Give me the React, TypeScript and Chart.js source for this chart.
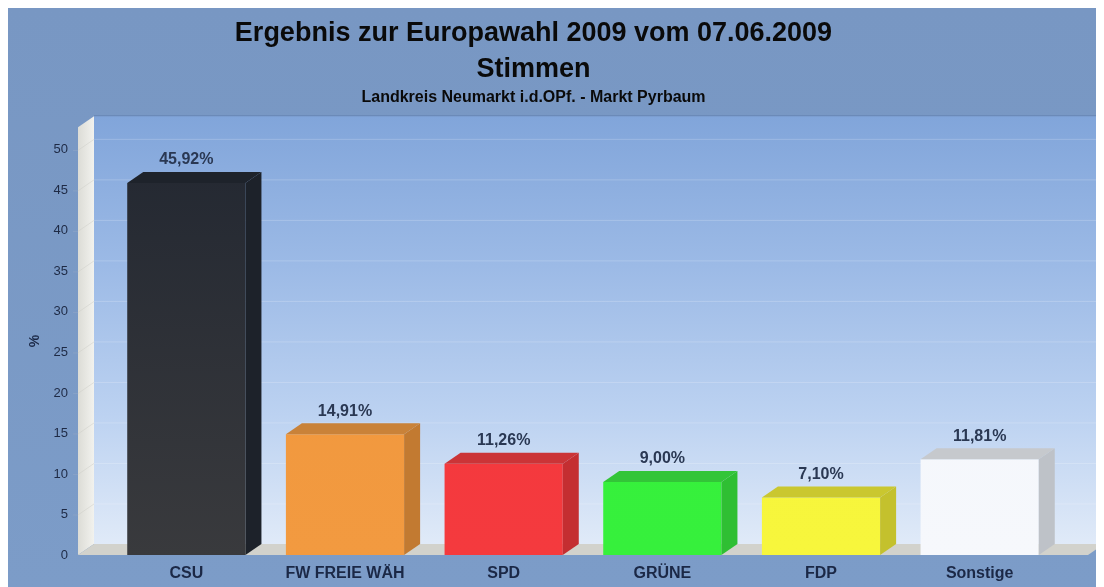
import { useEffect, useRef } from 'react';
import { Chart, registerables } from 'chart.js';

Chart.register(...registerables);

const categories = ['CSU', 'FW FREIE WÄH', 'SPD', 'GRÜNE', 'FDP', 'Sonstige'];
const values = [45.92, 14.91, 11.26, 9.0, 7.1, 11.81];
const frontTop = ['#222731', '#f0963c', '#f4363c', '#38f23c', '#f5f43a', '#f2f5fb'];
const frontBottom = ['#393a3d', '#f29a40', '#f43a3e', '#36f03c', '#f7f63c', '#f6f8fc'];
const sideColors = ['#1d222a', '#c27a31', '#c42e31', '#2fbf33', '#c4c12d', '#bec2c8'];
const topColors = ['#1e232b', '#c98239', '#cb3437', '#33c538', '#cac72f', '#c6c9cd'];
const titleLines = ['Ergebnis zur Europawahl 2009 vom 07.06.2009', 'Stimmen'];
const subtitleText = 'Landkreis Neumarkt i.d.OPf. - Markt Pyrbaum';
const yAxisTitle = '%';
const yMin = 0;
const yMax = 52.8;
const yStep = 5;

const FONT = "'Liberation Sans', Arial, Helvetica, sans-serif";
const DX = 16;
const DY = 11;
const EXT = 29;

function fmt(v: number) {
  return v.toFixed(2).replace('.', ',') + '%';
}

const deco3d = {
  id: 'deco3d',
  beforeDraw(chart: any) {
    const { ctx, chartArea } = chart;
    if (!chartArea) return;
    const { left, right, top, bottom } = chartArea;
    const y = chart.scales.y;
    ctx.save();
    const bg = ctx.createLinearGradient(0, 0, 0, chart.height);
    bg.addColorStop(0, '#7897c3');
    bg.addColorStop(1, '#7c9cc8');
    ctx.fillStyle = bg;
    ctx.fillRect(0, 0, chart.width, chart.height);

    const wl = left - EXT;
    const wr = right + EXT;
    // back wall
    const bw = ctx.createLinearGradient(0, top - DY, 0, bottom - DY);
    bw.addColorStop(0, '#81a5da');
    bw.addColorStop(0.35, '#9cbae6');
    bw.addColorStop(0.7, '#bcd2f1');
    bw.addColorStop(1, '#e0eaf8');
    ctx.fillStyle = bw;
    ctx.fillRect(wl + DX, top - DY, wr - wl, bottom - top);
    ctx.fillStyle = 'rgba(90,120,170,0.5)';
    ctx.fillRect(wl + DX, top - DY - 1, wr - wl, 1);

    // left wall
    const lw = ctx.createLinearGradient(wl, 0, wl + DX, 0);
    lw.addColorStop(0, '#dcdcd6');
    lw.addColorStop(1, '#f2f2ee');
    ctx.fillStyle = lw;
    ctx.beginPath();
    ctx.moveTo(wl, top);
    ctx.lineTo(wl + DX, top - DY);
    ctx.lineTo(wl + DX, bottom - DY);
    ctx.lineTo(wl, bottom);
    ctx.closePath();
    ctx.fill();

    // grid lines
    const ticks = y.ticks || [];
    ticks.forEach((t: any) => {
      if (t.value <= yMin) return;
      const py = y.getPixelForValue(t.value);
      ctx.strokeStyle = 'rgba(255,255,255,0.2)';
      ctx.lineWidth = 1;
      ctx.beginPath();
      ctx.moveTo(wl + DX, py - DY + 0.5);
      ctx.lineTo(wr + DX, py - DY + 0.5);
      ctx.stroke();
      ctx.strokeStyle = 'rgba(205,205,200,0.5)';
      ctx.beginPath();
      ctx.moveTo(wl, py + 0.5);
      ctx.lineTo(wl + DX, py - DY + 0.5);
      ctx.stroke();
      ctx.strokeStyle = 'rgba(150,170,200,0.5)';
      ctx.beginPath();
      ctx.moveTo(wl - 5, py + 0.5);
      ctx.lineTo(wl, py + 0.5);
      ctx.stroke();
    });

    // floor
    ctx.fillStyle = '#d2d2cc';
    ctx.beginPath();
    ctx.moveTo(wl, bottom);
    ctx.lineTo(wl + DX, bottom - DY);
    ctx.lineTo(wr + DX, bottom - DY);
    ctx.lineTo(wr, bottom);
    ctx.closePath();
    ctx.fill();
    ctx.restore();
  },
  afterDatasetsDraw(chart: any) {
    const { ctx } = chart;
    const meta = chart.getDatasetMeta(0);
    ctx.save();
    meta.data.forEach((bar: any, i: number) => {
      const { x, y, base, width } = bar.getProps(['x', 'y', 'base', 'width'], true);
      const l = x - width / 2;
      const r = x + width / 2;
      ctx.fillStyle = sideColors[i];
      ctx.beginPath();
      ctx.moveTo(r, y);
      ctx.lineTo(r + DX, y - DY);
      ctx.lineTo(r + DX, base - DY);
      ctx.lineTo(r, base);
      ctx.closePath();
      ctx.fill();
      ctx.fillStyle = topColors[i];
      ctx.beginPath();
      ctx.moveTo(l, y);
      ctx.lineTo(l + DX, y - DY);
      ctx.lineTo(r + DX, y - DY);
      ctx.lineTo(r, y);
      ctx.closePath();
      ctx.fill();
      ctx.fillStyle = '#2a3853';
      ctx.font = `bold 16px ${FONT}`;
      ctx.textAlign = 'center';
      ctx.textBaseline = 'middle';
      ctx.fillText(fmt(values[i]), x, y - DY - 12);
    });
    ctx.restore();
  },
};

export default function App() {
  const ref = useRef<HTMLCanvasElement>(null);
  useEffect(() => {
    if (!ref.current) return;
    const chart = new Chart(ref.current, {
      type: 'bar',
      data: {
        labels: categories,
        datasets: [
          {
            data: values,
            borderWidth: 0,
            categoryPercentage: 1,
            barPercentage: 0.745,
            backgroundColor: (c: any) => {
              const ch = c.chart;
              const area = ch.chartArea;
              const i = c.dataIndex;
              if (!area) return frontTop[i];
              const g = ch.ctx.createLinearGradient(0, area.top, 0, area.bottom);
              g.addColorStop(0, frontTop[i]);
              g.addColorStop(1, frontBottom[i]);
              return g;
            },
          },
        ],
      },
      options: {
        responsive: false,
        animation: false,
        layout: { padding: { left: 0, right: 45, top: 0, bottom: 0 } },
        plugins: {
          legend: { display: false },
          tooltip: { enabled: false },
          title: {
            display: true,
            text: titleLines,
            color: '#0a0a0a',
            font: { family: FONT, size: 27, weight: 'bold', lineHeight: 1.333 },
            padding: { top: 8, bottom: 0 },
          },
          subtitle: {
            display: true,
            text: subtitleText,
            color: '#0a0a0a',
            font: { family: FONT, size: 16, weight: 'bold', lineHeight: 1.2 },
            padding: { top: 0, bottom: 20 },
          },
        },
        scales: {
          x: {
            grid: { display: false, drawTicks: false },
            border: { display: false },
            ticks: {
              color: '#1b2846',
              font: { family: FONT, size: 16, weight: 'bold' },
              padding: 9,
              maxRotation: 0,
              autoSkip: false,
            },
            afterFit: (s: any) => {
              s.height = 32;
            },
          },
          y: {
            min: yMin,
            max: yMax,
            grid: { display: false, drawTicks: false },
            border: { display: false },
            ticks: {
              stepSize: yStep,
              includeBounds: false,
              color: '#1e2a45',
              font: { family: FONT, size: 13 },
              padding: 39,
            },
            title: {
              display: true,
              text: yAxisTitle,
              color: '#1b2846',
              font: { family: FONT, size: 14, weight: 'bold' },
              padding: { top: 19, bottom: 0 },
            },
            afterFit: (s: any) => {
              s.width = 99;
              s.paddingTop = 0;
              s.paddingBottom = 0;
            },
          },
        },
      },
      plugins: [deco3d],
    } as any);
    return () => chart.destroy();
  }, []);
  return <canvas ref={ref} width={1096} height={579} style={{ display: 'block' }} />;
}
